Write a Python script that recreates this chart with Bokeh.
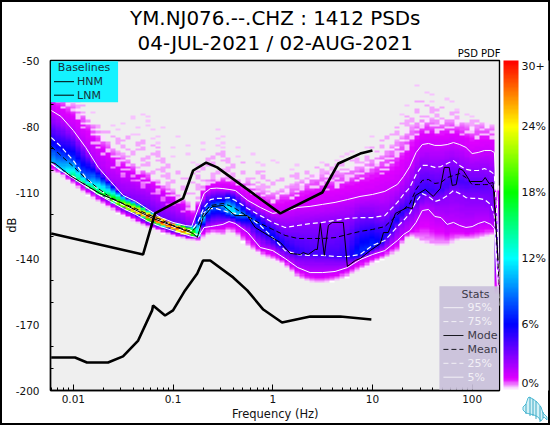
import numpy as np
from urllib.parse import quote
from bokeh.plotting import figure
from bokeh.embed import file_html
from bokeh.resources import INLINE
from bokeh.models import (Range1d, FixedTicker, LinearColorMapper, ColorBar, Label,
                          PolyAnnotation)

TITLE_1 = "YM.NJ076.--.CHZ : 1412 PSDs"
TITLE_2 = "04-JUL-2021 / 02-AUG-2021"

# PDF column frequencies (Hz) and dB levels read per column
FREQ = [.006,.0075,.01,.0133,.0178,.0237,.0316,.0422,.0562,.075,.1,.133,.154,.178,.205,.237,.274,.316,.365,.422,.562,.75,1,1.33,1.78,2.37,3.16,4.22,5.62,7.5,10,13.3,17.8,20.5,23.7,27.4,31.6,36.5,42.2,48.7,56.2,64.9,75,86.6,100,115,133,154,167,179,188]
P95 = [-72.7,-75.4,-81.8,-89.5,-98.6,-105,-111.3,-114,-117.7,-121.3,-123.6,-125,-125.4,-117.7,-110.4,-108.2,-108,-108.2,-108.6,-109.1,-113.6,-116.8,-119.5,-118.6,-116.8,-116.3,-115.4,-114.5,-113.2,-111.8,-110.9,-109.5,-106.3,-102.7,-98.2,-91.8,-88.2,-87.7,-88.6,-88.6,-88.2,-87.3,-88.2,-89.5,-92.3,-91.8,-90.9,-90.9,-91.8,-113.6,-150]
P75 = [-85,-89.1,-95.5,-103.2,-108.6,-112.3,-115.5,-117.7,-120.5,-122.7,-125,-126.8,-127.3,-123.2,-116.8,-113.2,-112.7,-112.7,-112.3,-113.6,-117.3,-120.5,-123.6,-125.9,-125,-124.1,-123.6,-122.7,-121.8,-121.4,-121.4,-120.5,-114.5,-110.9,-107.7,-101.8,-97.7,-97.7,-98.6,-98.2,-96.8,-95.5,-97.7,-99.5,-100,-100,-99.1,-100.5,-101.8,-127.3,-152.3]
MEAN = [-89.1,-93.2,-98.2,-103.6,-108.2,-112.3,-115,-117.3,-120,-122.3,-125,-126.8,-127.7,-125,-119.1,-115.9,-115.5,-115,-115.9,-117.3,-120.9,-124.1,-126.8,-129.5,-130.9,-130.9,-130.9,-130.5,-129.1,-127.7,-126.8,-125.5,-120,-117.7,-115,-108.6,-104.5,-104.1,-105.9,-105.5,-103.2,-102.3,-101.4,-103.2,-106.4,-106.4,-106.4,-106.4,-109.1,-136.4,-154.5]
P25 = [-96.8,-100,-102.7,-106.8,-110.9,-113.2,-115.5,-118.2,-120.9,-123.2,-125.5,-127.7,-128.6,-129.1,-119.1,-117.3,-117.3,-118.2,-119.1,-119.5,-120.9,-125,-130.5,-136.4,-138.2,-138.6,-138.6,-139.1,-139.1,-138.2,-134.1,-131.8,-125.5,-122.7,-119.5,-114.1,-110.5,-111.8,-114.1,-113.2,-111.4,-109.1,-110.5,-112.3,-112.7,-112.7,-113.2,-115.5,-120.5,-145.5,-159.1]
P05 = [-96.8,-100,-103.6,-107.3,-110.9,-114.1,-117.3,-120,-123.2,-125.5,-127.3,-129.1,-130,-130.5,-125.9,-125.5,-125,-124.5,-123.2,-124.1,-128.2,-135,-136.4,-140,-144.1,-146.4,-146.4,-145.9,-144.1,-140.5,-138.2,-136.4,-131.8,-129.1,-127.3,-123.6,-118.2,-117.7,-120.9,-121.4,-124.5,-123.6,-125,-125.9,-125.5,-124.1,-123.2,-124.5,-126.4,-152.3,-161.4]
LOWEST = [-100,-101.4,-105.9,-110,-113.6,-116.8,-120,-122.7,-125.5,-127.3,-129.1,-130.9,-131.4,-131.8,-129.5,-127.7,-128.2,-128.6,-126.8,-128.2,-134.1,-137.7,-140,-142.3,-147.7,-150,-150.5,-149.5,-147.7,-144.5,-141.8,-139.1,-136.4,-131.8,-129.1,-130,-131.8,-132.3,-133.2,-133.2,-133.2,-131.8,-130.9,-130.9,-130.9,-130.5,-129.5,-128.6,-128.6,-159.1,-163.6]
DENSE_TOP = [-63.6,-65.9,-69.5,-75,-81.8,-88.6,-93.2,-97.7,-100.9,-105.5,-109.1,-113.6,-118.2,-113.6,-104.5,-103.6,-103.2,-102.3,-102.7,-103.6,-104.5,-108.2,-110,-108.2,-105.9,-102.3,-100.9,-100,-99.1,-96.8,-94.5,-90.9,-86.4,-83,-80,-78,-76.5,-76,-76.5,-77,-76.5,-76.5,-77,-78,-79,-78.5,-78,-78.5,-80,-111.4,-145.5]
SPARSE_TOP = [-54.5,-56.8,-61.4,-68.2,-73.6,-78.2,-77.3,-73.6,-72.7,-78.2,-82.7,-87.3,-88.6,-88.6,-84.1,-80.9,-79.5,-80.9,-84.1,-86.4,-90,-93.2,-95.5,-96.8,-96.8,-96.4,-94.5,-93.2,-90.9,-87.7,-84.1,-79.5,-75.5,-70.5,-65.9,-61.4,-60,-61.4,-63.6,-65.9,-66.8,-68.2,-70.5,-72.7,-75,-76.4,-75.9,-78.2,-79.5,-109.1,-140.9]
PEAK_DB = [-95.5,-100,-103.2,-106.8,-110,-112.7,-115.9,-118.2,-120.9,-123.2,-125.5,-127.7,-128.6,-128.6,-121.8,-116.8,-115.9,-116.4,-117.3,-119.1,-121.4,-126.4,-130.9,-134.5,-137.3,-138.2,-139.1,-139.1,-140,-137.3,-135,-130.9,-122.7,-119.1,-116.4,-112.7,-110,-109.1,-109.1,-109.1,-106.8,-104.5,-104.5,-105.5,-106.8,-106.8,-107.3,-107.7,-111.4,-131.8,-154.5]
PEAK_PCT = [10,11,15,16,18,20,24,27,30,30,30,28,22,14,10,9,9,10,13,11,8,7,6.5,5.5,5,4.5,4.5,4.5,5,7,7,5.5,5.5,5,5,5,5,5,4.5,4.5,4.5,4.5,4.5,4.5,4,4,4,3.5,3,2.5,1.5]

MODE_F = [.006,.00655,.00927,.0185,.0294,.0631,.118,.159,.175,.2,.247,.318,.42,.555,.667,.9,1.19,1.5,1.89,2.02,2.27,2.67,2.8,3.0,3.29,3.61,3.95,5.1,5.6,6.73,7.55,9.5,12,12.9,14.4,17,22.4,25.1,26.9,33.9,40.7,47.9,52.5,58.9,63.1,69.2,74.1,81.3,95.5,126,135,148,162,182]
MODE_DB = [-96.2,-96.8,-102.3,-110.5,-114.5,-121.8,-126.4,-128.6,-130.5,-121.4,-116.4,-115.9,-120.5,-120.5,-125.9,-129.5,-132.7,-137.7,-138.2,-137.3,-138.2,-135.9,-135.9,-124.1,-138.6,-125,-123.6,-123.6,-143.6,-140.9,-140,-136.4,-133.2,-128.2,-128.2,-119.5,-116.8,-117.3,-111.4,-108.6,-111.8,-108.2,-98.6,-98.6,-106.8,-106.4,-99.1,-100,-105,-105,-103.2,-105.9,-105.5,-140.9]

HNM_F = [.006,.05,.066,.126,.159,.215,.277,1.19,3.14,4.55,7.55,10]
HNM_DB = [-128.6,-138.2,-119.5,-112.7,-100,-96.4,-98.6,-119.5,-110,-96.8,-92.3,-90.9]
LNM_F = [.006,.0104,.0137,.0223,.0315,.0447,.0617,.063,.0832,.1,.132,.175,.2,.236,.401,.555,.804,1.24,2.38,4.75,9.75]
LNM_DB = [-185,-185,-187.3,-187.3,-184.5,-177.3,-163.6,-161.4,-165.9,-163.6,-154.5,-146.8,-140.9,-140.9,-148.6,-154.5,-163.2,-169.1,-166.4,-166.4,-167.7]

X_TICKS = [.01,.1,1,10,100]
Y_TICKS = [-50,-80,-110,-140,-170,-200]
CB_LABELS = ["0%","6%","12%","18%","24%","30+"]
STATS = ["95%","75%","Mode","Mean","25%","5%"]
BASELINES = ["HNM","LNM"]

FONT = "DejaVu Sans"
fmin, fmax = 10**-2.2289, 10**2.2741

def px_x(px):
    return 10**((px-73.3)/99.6-2)
def px_y(py):
    return -50-(py-60.3)/2.2

# colour scale
stops = [0,1,6,12,18,24,30]
rgb = np.array([[255,255,255],[224,0,255],[0,0,255],[0,255,255],[0,255,0],[255,255,0],[255,0,0]])
lv = np.linspace(0,30,256)
palette = ["#%02x%02x%02x" % tuple(int(np.interp(v,stops,rgb[:,c])) for c in range(3)) for v in lv]
mapper = LinearColorMapper(palette=palette, low=0, high=30, nan_color="rgba(0,0,0,0)")

# density cells built from the levels read per column
TILE = ["1001000110010","0010011000101","1100000101000","0001100010010","0110001000001","1000100100110","0010010011000"]
logF = np.log10(FREQ)
edges_x = np.linspace(np.log10(fmin), np.log10(fmax), 91)
cx = (edges_x[:-1]+edges_x[1:])/2
dbs = np.arange(-200,-50)+0.5
Z = np.full((len(dbs),len(cx)), np.nan)
at = lambda arr, lf: float(np.interp(lf, logF, arr))
for j, lf in enumerate(cx):
    pk = at(PEAK_PCT, lf)
    lev = [at(LOWEST,lf)-1, at(LOWEST,lf), at(P05,lf), at(P25,lf), at(PEAK_DB,lf), at(P75,lf), at(P95,lf), at(DENSE_TOP,lf), at(SPARSE_TOP,lf)]
    lev = np.maximum.accumulate(lev)+np.arange(9)*1e-3
    lev[3] = min(lev[3], max(lev[4]-1.5, lev[2]+.2))
    lev[5] = max(lev[5], min(lev[4]+1.5, lev[6]-.2))
    f_lo = max(.5, .95-(lev[4]-lev[3])/8)
    f_hi = max(.5, .95-(lev[5]-lev[4])/8)
    dens = [0,.45,max(1.8,.15*pk),max(3.0,f_lo*pk),max(pk,3.6),max(2.8,f_hi*pk),max(1.5,.12*pk),.42,.3]
    col = np.interp(dbs, lev, dens, left=np.nan, right=np.nan)
    top_mid = (lev[7]+lev[8])/2
    for i, d in enumerate(dbs):
        if np.isnan(col[i]) or col[i] < .05:
            continue
        keep = TILE[i % len(TILE)][(j+2*i) % 13] == "1"
        keep2 = TILE[(i+2) % len(TILE)][(j+5) % 13] == "1"
        if d > lev[7] and not keep:
            continue
        if d > top_mid and not keep2:
            continue
        if lev[6] + .45*(lev[7]-lev[6]) < d <= lev[7] and TILE[(i+3) % len(TILE)][(j+i) % 13] == "1":
            col[i] *= .35
        Z[i,j] = col[i]

# small wave logo and page frame, painted by the page behind / over the canvas
logo = ("<svg xmlns='http://www.w3.org/2000/svg' width='28' height='28'>"
        "<path d='M1 11L4 8L6 2L7 1L11 3L15 6L19 11L21 17L25 21L25 24L22 21L19 25L16 21L12 19L8 18L4 17L1 14Z' "
        "fill='#d5f2f7' stroke='#52bdd6' stroke-width='1'/>"
        "<path d='M4 8V18M8 1V20M11 3V20M14 5V23M18 10V26M21 16V22' stroke='#3aa9c6' stroke-width='1' fill='none'/></svg>")

p = figure(width=550, height=425, x_axis_type="log", output_backend="svg", toolbar_location=None,
           x_range=Range1d(fmin,fmax), y_range=Range1d(-200,-50),
           min_border_left=50, min_border_right=51, min_border_top=60, min_border_bottom=35,
           background_fill_color="#efefef", border_fill_alpha=0)
p.styles = {"outline":"2.5px solid black", "outline-offset":"-2.5px",
            "background":"white url(\"data:image/svg+xml," + quote(logo) + "\") no-repeat 522px 396px"}
p.grid.visible = False
p.outline_line_color = "black"
p.outline_line_width = 1.4

p.image(image=[Z], x=fmin, y=-200, dw=fmax-fmin, dh=150, color_mapper=mapper)

def pline(f, d, color, dash="solid", width=1.0, level="glyph"):
    p.line(f, d, line_color=color, line_dash=dash, line_width=width, level=level)

pline(FREQ,P95,"white")
pline(FREQ,P75,"white","5 3",1.2)
pline(FREQ,P25,"white","5 3",1.2)
pline(FREQ,P05,"white")
pline(FREQ,MEAN,"black","5 3")
pline(MODE_F,MODE_DB,"black")
pline(HNM_F,HNM_DB,"black",width=2.6)
pline(LNM_F,LNM_DB,"black",width=2.6)

minor_x = [k*10**e for e in range(-3,3) for k in range(2,10)]
minor_x = [v for v in minor_x if fmin < v < fmax]
minor_y = [v for v in range(-190,-50,10) if v not in Y_TICKS]
ax = p.xaxis[0]
ax.ticker = FixedTicker(ticks=X_TICKS, minor_ticks=minor_x)
ax.major_label_overrides = {t: str(t) for t in X_TICKS}
ax.major_tick_in, ax.major_tick_out = 6, 0
ax.minor_tick_in, ax.minor_tick_out = 3, 0
ay = p.yaxis[0]
ay.ticker = FixedTicker(ticks=Y_TICKS, minor_ticks=minor_y)
ay.major_label_overrides = {t: str(t) for t in Y_TICKS}
ay.major_tick_line_color = None
ay.minor_tick_in, ay.minor_tick_out = 3, 0
for a in (ax, ay):
    a.axis_line_width = 1.4
    a.major_tick_line_width = 1
    a.major_label_text_font = FONT
    a.major_label_text_font_size = "10.5px"
    a.major_label_text_color = "#111111"
ax.major_label_standoff = 4
ay.major_label_standoff = 5

def txt(px, py, s, size, color="#111111", align="left", alpha=1.0, angle=0.0, place="center", lh=1.2):
    lab = Label(x=px_x(px), y=px_y(py), text=s, text_font=FONT, text_font_size=f"{size}px",
                text_color=color, text_align=align, text_baseline="middle", text_alpha=alpha, angle=angle,
                text_line_height=lh)
    p.add_layout(lab, place)

def poly(xs, ys, fill=None, falpha=1.0):
    p.add_layout(PolyAnnotation(xs=[px_x(v) for v in xs], ys=[px_y(v) for v in ys],
                                fill_color=fill, fill_alpha=falpha, line_alpha=0))

# baselines legend
poly([50.8,118,118,50.8],[61,61,102,102], fill="#14f2ff")
txt(84,67.5,"Baselines",11,"#17323c","center")
for py, s in zip([81.5,95],BASELINES):
    pline([px_x(54),px_x(74)],[px_y(py)]*2,"black",level="overlay")
    txt(77,py,s,11,"#17323c")

# stats legend
poly([439,498.5,498.5,439],[286,286,389.5,389.5], fill="#c9c0da", falpha=.92)
txt(475,294,"Stats",11,"#3c3a48","center")
style = [("#f2f0f6","solid"),("#f2f0f6","5 3"),("#1a1a22","solid"),("#1a1a22","5 3"),("#f2f0f6","5 3"),("#f2f0f6","solid")]
for k,(s,(c,d)) in enumerate(zip(STATS,style)):
    py = 307.5+13.9*k
    pline([px_x(443),px_x(463)],[px_y(py)]*2,c,d,level="overlay")
    txt(467,py,s,11,"#3c3a48" if c!="#f2f0f6" else "#f2f0f6")

# texts outside the frame
txt(275,18,TITLE_1,19.9,"black","center",place="above")
txt(275,43,TITLE_2,19.9,"black","center",place="above")
txt(500,53.5,"PSD PDF",10,"black","right",place="above")
txt(12,225,"dB",11.5,"#111111","center",angle=np.pi/2,place="right")
txt(275,414,"Frequency (Hz)",11.5,"#111111","center",place="below")

# colour bar
cb = ColorBar(color_mapper=mapper, width=15, height=330, location=(453,0), padding=0, margin=0,
              ticker=FixedTicker(ticks=[.64,6,12,18,24,29.5]),
              major_label_overrides=dict(zip([.64,6,12,18,24,29.5],CB_LABELS)),
              major_label_text_font=FONT, major_label_text_font_size="11px", major_label_text_color="#111111",
              major_tick_line_color=None, minor_tick_line_color=None, bar_line_color=None, label_standoff=3)
p.add_layout(cb, "center")

open("out.html","w").write(file_html(p, INLINE))
